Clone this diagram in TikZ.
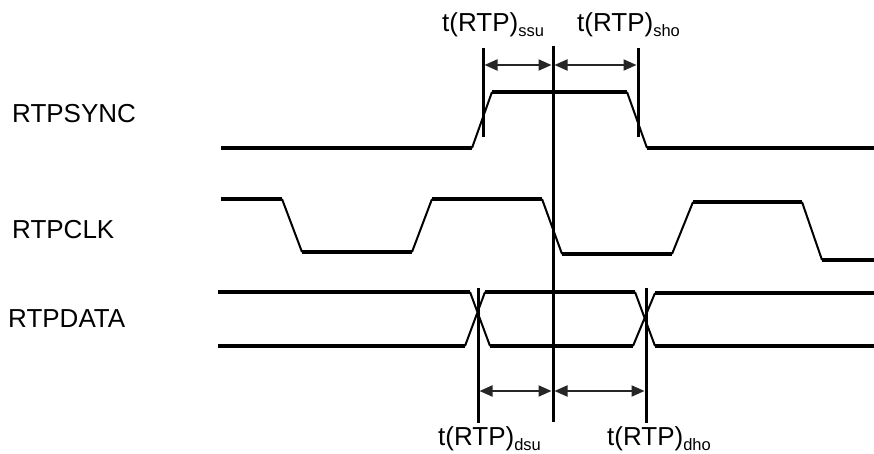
\documentclass[tikz,border=0pt]{standalone}
\usepackage{fontspec}
\setmainfont{Liberation Sans}
\usetikzlibrary{arrows.meta}
\newcommand{\tsub}[1]{t(RTP)\raisebox{-5pt}{\fontsize{16.5}{16.5}\selectfont #1}}
\begin{document}
\begin{tikzpicture}[x=1pt,y=-1pt,
  hl/.style={line width=3.2pt},
  sl/.style={line width=2pt},
  vl/.style={line width=3pt},
  dim/.style={line width=2pt,draw=black!85,{Triangle[length=13pt,width=11pt]}-{Triangle[length=13pt,width=11pt]}, shorten <=1.5pt, shorten >=1.5pt},
  lbl/.style={anchor=base west,inner sep=0pt,font=\fontsize{26}{26}\selectfont}]
\useasboundingbox (0,0) rectangle (874,454);
% signal labels
\node[lbl] (ls) at (12,123) {RTPSYNC};
\node[lbl] (lc) at (12,238) {RTPCLK};
\node[lbl] (ld) at (8,327) {RTPDATA};
% RTPSYNC
\draw[hl] (221,148)--(472,148) (492,92)--(627,92) (647,148)--(874,148);
\draw[sl] (472,148)--(492,92) (627,92)--(647,148);
% RTPCLK
\draw[hl] (221,199)--(282,199) (302,252)--(412,252) (432,199)--(542,199)
          (562,254)--(672,254) (693,202)--(802,202) (822,260)--(874,260);
\draw[sl] (282,199)--(302,252) (412,252)--(432,199) (542,199)--(562,254)
          (672,254)--(693,202) (802,202)--(822,260);
% RTPDATA
\draw[hl] (218,292)--(470,292) (485,292)--(635,292) (655,293)--(874,293);
\draw[hl] (218,346)--(465,346) (490,346)--(633,346) (655,346)--(874,346);
\draw[sl] (470,292)--(490,346) (465,346)--(485,292)
          (635,292)--(655,346) (633,346)--(655,293);
% vertical reference lines
\coordinate (a1) at (483,48);  \coordinate (a2) at (483,137);
\coordinate (c1) at (553,46);  \coordinate (c2) at (553,422);
\coordinate (b1) at (638,48);  \coordinate (b2) at (638,137);
\coordinate (d1) at (478,288); \coordinate (d2) at (478,423);
\coordinate (e1) at (646,288); \coordinate (e2) at (646,423);
\draw[vl] (a1)--(a2) (c1)--(c2) (b1)--(b2) (d1)--(d2) (e1)--(e2);
% dimension arrows
\coordinate (ta) at (483,65); \coordinate (tc) at (553,65); \coordinate (tb) at (638,65);
\coordinate (ba) at (478,391); \coordinate (bc) at (553,391); \coordinate (bb) at (646,391);
\draw[dim] (ta)--(tc);
\draw[dim] (tc)--(tb);
\draw[dim] (ba)--(bc);
\draw[dim] (bc)--(bb);
% timing labels
\node[lbl] (tssu) at (442,32) {\tsub{ssu}};
\node[lbl] (tsho) at (577,32) {\tsub{sho}};
\node[lbl] (tdsu) at (438,445) {\tsub{dsu}};
\node[lbl] (tdho) at (607,445) {\tsub{dho}};
\end{tikzpicture}
\end{document}
